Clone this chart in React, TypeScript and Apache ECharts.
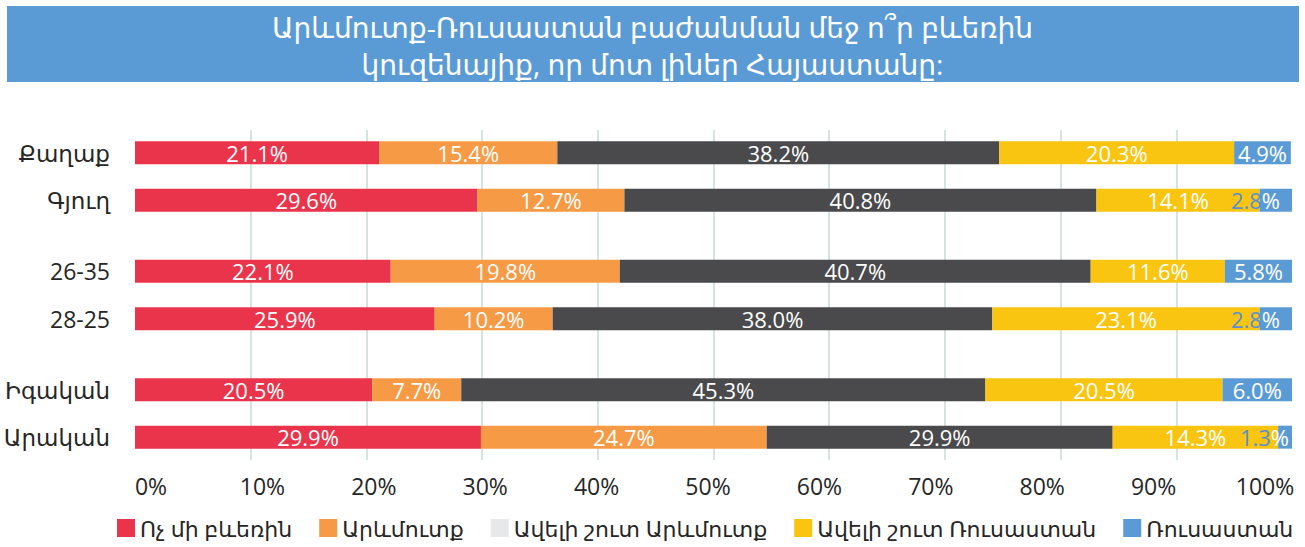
import React, { useEffect, useRef } from "react";
import * as echarts from "echarts";

const titleText = "Արևմուտք-Ռուսաստան բաժանման մեջ ո՞ր բևեռին\nկուզենայիք, որ մոտ լիներ Հայաստանը:";
const categories = ["Քաղաք", "Գյուղ", "26-35", "28-25", "Իգական", "Արական"];
const seriesNames = ["Ոչ մի բևեռին", "Արևմուտք", "Ավելի շուտ Արևմուտք", "Ավելի շուտ Ռուսաստան", "Ռուսաստան"];
const neither = [21.1, 29.6, 22.1, 25.9, 20.5, 29.9];
const west = [15.4, 12.7, 19.8, 10.2, 7.7, 24.7];
const ratherWest = [38.2, 40.8, 40.7, 38.0, 45.3, 29.9];
const ratherRussia = [20.3, 14.1, 11.6, 23.1, 20.5, 14.3];
const russia = [4.9, 2.8, 5.8, 2.8, 6.0, 1.3];
const xTicks = [0, 10, 20, 30, 40, 50, 60, 70, 80, 90, 100];

// layout: slot of each category on the band axis (gaps between groups)
const slotOf = [0, 2, 5, 7, 10, 12];
const slotCount = 13;

const barColors = ["#e9344b", "#f79a45", "#4a4a4c", "#f9c511", "#5b9bd5"];
const legendColors = ["#e9344b", "#f79a45", "#e7e8ea", "#f9c511", "#5b9bd5"];

const FONT = '"Segoe UI", "Open Sans", "Noto Sans", "DejaVu Sans", sans-serif';

export default function App() {
  const ref = useRef<HTMLDivElement>(null);
  useEffect(() => {
    document.body.style.margin = "0";
    const chart = echarts.init(ref.current!, null, { renderer: "svg" });
    const slotLabels: string[] = Array.from({ length: slotCount }, () => "");
    categories.forEach((c, i) => (slotLabels[slotOf[i]] = c));
    const toSlots = (vals: number[]) => {
      const arr: (number | string)[] = Array.from({ length: slotCount }, () => "-");
      vals.forEach((v, i) => (arr[slotOf[i]] = v));
      return arr;
    };
    const allVals = [neither, west, ratherWest, ratherRussia, russia];
    const series = allVals.map((vals, si) => ({
      name: seriesNames[si],
      type: "bar",
      stack: "total",
      xAxisIndex: 2,
      yAxisIndex: 2,
      barWidth: 23,
      data: toSlots(vals).map((v) => {
        if (v === "-") return "-";
        const num = v as number;
        if (si === 4 && num < 3.5) {
          return {
            value: num,
            label: {
              position: "insideRight",
              distance: num < 2 ? 3 : 12,
              formatter: (p: any) => `{n|${p.value.toFixed(1)}}{p|%}`,
              rich: {
                n: { color: "#5a90cc", fontSize: 22, fontFamily: FONT },
                p: { color: "#ffffff", fontSize: 22, fontFamily: FONT },
              },
            },
          };
        }
        return num;
      }),
      itemStyle: { color: barColors[si] },
      label: {
        show: true,
        position: "inside",
        color: "#ffffff",
        fontSize: 22,
        fontFamily: FONT,
        formatter: (p: any) => `${Number(p.value).toFixed(1)}%`,
      },
    }));

    chart.setOption({
      animation: false,
      textStyle: { fontFamily: FONT },
      graphic: [
        {
          type: "rect",
          shape: { x: 7, y: 6, width: 1292, height: 76 },
          style: { fill: "#5b9bd5" },
          z: 0,
        },
      ],
      title: {
        text: titleText,
        left: "center",
        top: 3,
        textStyle: { color: "#ffffff", fontSize: 28, fontWeight: "normal", lineHeight: 37, fontFamily: FONT },
      },
      legend: {
        bottom: 3,
        left: 112,
        width: 1190,
        icon: "rect",
        itemWidth: 18,
        itemHeight: 18,
        itemGap: 27,
        textStyle: { fontSize: 22, color: "#262626", fontFamily: FONT },
        data: seriesNames.map((n, i) => ({ name: n, itemStyle: { color: legendColors[i] } })),
      },
      grid: [
        { left: 135, right: 13, top: 130, bottom: 87 },
        { left: 151, right: 40, top: 130, bottom: 87 },
        { left: 135, right: 13, top: 141, bottom: 98 },
      ],
      xAxis: [
        {
          gridIndex: 0, type: "value", min: 0, max: 100, interval: 10,
          axisLabel: { show: false }, axisLine: { show: false }, axisTick: { show: false },
          splitLine: { show: true, showMinLine: false, showMaxLine: false, lineStyle: { color: "#d6e4e1", width: 2 } },
        },
        {
          gridIndex: 1, type: "value", min: 0, max: 100, interval: 10,
          axisLabel: {
            show: true, fontSize: 23, color: "#262626", margin: 14, fontFamily: FONT,
            formatter: (v: number) => (xTicks.includes(v) ? `${v}%` : ""),
          },
          axisLine: { show: false }, axisTick: { show: false }, splitLine: { show: false },
        },
        {
          gridIndex: 2, type: "value", min: 0, max: 100, show: false,
          splitLine: { show: false },
        },
      ],
      yAxis: [
        { gridIndex: 0, type: "category", data: [""], show: false },
        { gridIndex: 1, type: "category", data: [""], show: false },
        {
          gridIndex: 2, type: "category", inverse: true, data: slotLabels,
          axisLine: { show: false }, axisTick: { show: false },
          axisLabel: { fontSize: 23, color: "#262626", margin: 25, fontFamily: FONT, interval: 0 },
        },
      ],
      series,
    });
    return () => chart.dispose();
  }, []);
  return <div ref={ref} style={{ width: 1305, height: 547 }} />;
}
